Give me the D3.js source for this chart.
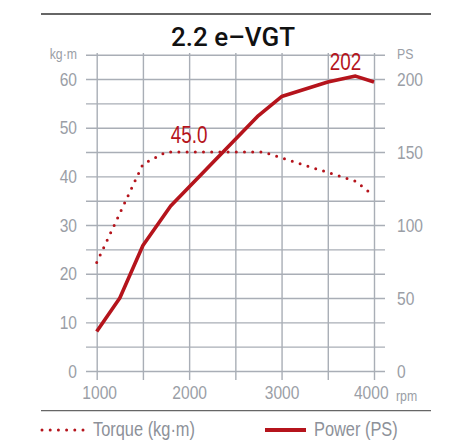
<!DOCTYPE html>
<html lang="en">
<head>
    <meta charset="UTF-8">
    <title>2.2 e-VGT</title>
    <style>
        body { margin: 0; background: #fff; }
        text { font-family: "Liberation Sans Narrow", "Liberation Sans", Arial, sans-serif; }
        .grid line { stroke: #a9aeb6; stroke-width: 1.4px; }
        .grid path { display: none; }
        .grid text { fill: #9a9ea6; font-size: 19px; }
        .unit { fill: #9a9ea6; font-size: 15px; }
        .lbl { fill: #b5141c; font-size: 23px; }
        .legend text { fill: #8d9199; font-size: 20px; }
    </style>
</head>
<body>
    <div id="chart"></div>
    <script src="https://d3js.org/d3.v7.min.js"></script>
    <script>
        // datos
        const rpmTicks = [1000, 1500, 2000, 2500, 3000, 3500, 4000];
        const torqueTicks = [0, 5, 10, 15, 20, 25, 30, 35, 40, 45, 50, 55, 60, 65];
        const psTicks = [0, 50, 100, 150, 200];

        const torqueRpm = [1000, 1500, 1750, 2800, 3800, 4000];
        const torqueKgm = [22.3, 42.5, 45.0, 45.0, 39.0, 36.0];

        const powerRpm = [1000, 1250, 1500, 1800, 2750, 3000, 3500, 3800, 4000];
        const powerPs = [27, 50, 86, 113, 175, 188, 198, 202, 198];

        const red = "#b5141c";
        const squeeze = 0.82; // la fuente original es estrecha

        const svg = d3.select("#chart").append("svg")
            .attr("width", 473)
            .attr("height", 446);

        const x = d3.scaleLinear().domain([1000, 4000]).range([96.7, 374]);
        const y = d3.scaleLinear().domain([0, 65]).range([371, 54.7]);
        const yPs = d3.scaleLinear().domain([0, 650 / 3]).range([371, 54.7]);

        // texto estrecho en una posición dada
        function narrowText(sel, px, py, str, cls, anchor) {
            return sel.append("text")
                .attr("class", cls)
                .attr("transform", `translate(${px},${py}) scale(${squeeze},1)`)
                .attr("text-anchor", anchor || "start")
                .text(str);
        }

        // reglas superior e inferior
        svg.append("line").attr("x1", 41).attr("x2", 431).attr("y1", 14).attr("y2", 14)
            .attr("stroke", "#333").attr("stroke-width", 1.3);
        svg.append("line").attr("x1", 41).attr("x2", 431).attr("y1", 410.7).attr("y2", 410.7)
            .attr("stroke", "#666").attr("stroke-width", 1.3);

        svg.append("text")
            .attr("x", 233).attr("y", 46)
            .attr("text-anchor", "middle")
            .style("font-family", "Roboto, 'Liberation Sans', sans-serif")
            .style("font-size", "26px")
            .style("font-weight", 500)
            .attr("fill", "#111")
            .text("2.2 e\u2013VGT");

        // rejilla horizontal + eje izquierdo
        svg.append("g")
            .attr("class", "grid")
            .attr("transform", "translate(86,0)")
            .call(d3.axisLeft(y).tickValues(torqueTicks)
                .tickSize(-(385 - 86)).tickPadding(9)
                .tickFormat(d => d % 10 === 0 && d <= 60 ? d : ""))
            .selectAll("text")
            .attr("x", -9 / squeeze)
            .attr("transform", `scale(${squeeze},1)`);

        // rejilla vertical + eje x
        svg.append("g")
            .attr("class", "grid")
            .attr("transform", "translate(0,380)")
            .call(d3.axisBottom(x).tickValues(rpmTicks)
                .tickSize(-(380 - 53)).tickPadding(6)
                .tickFormat(d => d % 1000 === 0 ? d : ""))
            .selectAll("text")
            .attr("dx", d => d === 1000 ? 3 : d === 4000 ? -4 : 0)
            .attr("transform", `scale(${squeeze},1)`);

        // eje derecho PS
        svg.append("g")
            .attr("class", "grid")
            .attr("transform", "translate(385,0)")
            .call(d3.axisRight(yPs).tickValues(psTicks).tickSize(0).tickPadding(12))
            .selectAll("text")
            .attr("x", 12 / squeeze)
            .attr("transform", `scale(${squeeze},1)`);

        narrowText(svg, 77, 59, "kg\u00b7m", "unit", "end");
        narrowText(svg, 397, 59, "PS", "unit");
        narrowText(svg, 396, 401, "rpm", "unit");

        // curvas
        const torque = torqueRpm.map((r, i) => [r, torqueKgm[i]]);
        const power = powerRpm.map((r, i) => [r, powerPs[i]]);

        svg.append("path")
            .datum(torque)
            .attr("fill", "none")
            .attr("stroke", red)
            .attr("stroke-width", 3)
            .attr("stroke-linecap", "round")
            .attr("stroke-dasharray", "0 8.2")
            .attr("d", d3.line().x(d => x(d[0])).y(d => y(d[1])));

        svg.append("path")
            .datum(power)
            .attr("fill", "none")
            .attr("stroke", red)
            .attr("stroke-width", 3.6)
            .attr("stroke-linejoin", "round")
            .attr("d", d3.line().x(d => x(d[0])).y(d => yPs(d[1])));

        // valores máximos
        narrowText(svg, x(2000), y(45) - 9, d3.max(torqueKgm).toFixed(1), "lbl", "middle");
        narrowText(svg, x(3800) - 10, yPs(202) - 6, d3.max(powerPs), "lbl", "middle");

        // leyenda
        const legend = svg.append("g").attr("class", "legend");
        legend.append("line").attr("x1", 42).attr("x2", 83).attr("y1", 430).attr("y2", 430)
            .attr("stroke", red).attr("stroke-width", 3)
            .attr("stroke-linecap", "round").attr("stroke-dasharray", "0 8.2");
        narrowText(legend, 93, 436, "Torque (kg\u00b7m)");
        legend.append("line").attr("x1", 265).attr("x2", 306).attr("y1", 430).attr("y2", 430)
            .attr("stroke", red).attr("stroke-width", 4);
        narrowText(legend, 314, 436, "Power (PS)");
    </script>
</body>
</html>
